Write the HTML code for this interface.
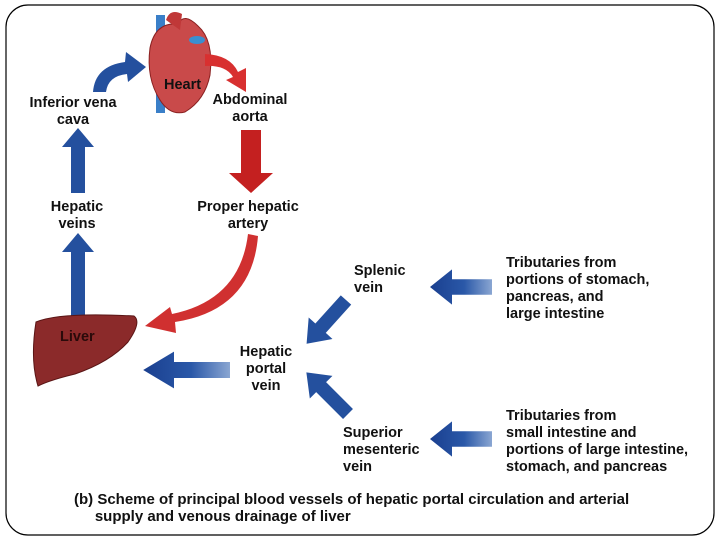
<!DOCTYPE html>
<html><head><style>
html,body{margin:0;padding:0;background:#fff;}
body{width:720px;height:540px;position:relative;overflow:hidden;font-family:"Liberation Sans",Arial,sans-serif;}
.t{position:absolute;font-weight:bold;font-size:14.5px;line-height:17px;color:#111;}
</style></head><body>
<svg width="720" height="540" style="position:absolute;left:0;top:0">
<defs>
<linearGradient id="bl" x1="0" y1="0" x2="1" y2="0"><stop offset="0" stop-color="#8aa6d2"/><stop offset="0.45" stop-color="#2a58a8"/><stop offset="1" stop-color="#1a3f8f"/></linearGradient>
<path id="ar" d="M0,-7 L40,-7 L40,-16 L62,0 L40,16 L40,7 L0,7 Z"/>
</defs>
<rect x="6" y="5" width="708" height="530" rx="22" fill="none" stroke="#000" stroke-width="1.2"/>
<path d="M71,193 L71,147 L62,147 L78,128 L94,147 L85,147 L85,193 Z" fill="#24509e"/>
<path d="M71,322 L71,252 L62,252 L78,233 L94,252 L85,252 L85,322 Z" fill="#24509e"/>
<path d="M93,92 Q95,66 125,62 L126,52 L146,67 L128,82 L127,74 Q108,76 106,92 Z" fill="#24509e"/>
<!-- heart -->
<rect x="156" y="15" width="9" height="98" fill="#3a7fc8"/>
<path d="M150,48 Q155,22 178,24 Q184,12 198,26 Q214,40 210,75 Q205,100 185,112 Q170,116 160,100 Q146,78 150,48 Z" fill="#c94a4a" stroke="#8a2020"/>
<path d="M166,20 Q170,8 182,14 L180,30 Z" fill="#c03838"/>
<ellipse cx="197" cy="40" rx="8" ry="4" fill="#3a8fd0"/>
<path d="M205,54 Q230,55 238,72 L246,68 L246,92 L226,80 L233,77 Q226,65 205,66 Z" fill="#d83030"/>
<path d="M241,130 L241,173 L229,173 L251,193 L273,173 L261,173 L261,130 Z" fill="#c42020"/>
<path d="M248,234 L258,236 Q252,310 175,322 L176,333 L145,326 L170,307 L172,314 Q240,300 248,234 Z" fill="#d03030"/>
<!-- liver -->
<path d="M36,322 Q60,312 134,316 Q142,322 128,342 Q110,362 75,374 Q50,380 38,386 Q30,360 36,322 Z" fill="#8b2a2a" stroke="#5a1515"/>
<use href="#ar" transform="translate(230,370) scale(-1.4,1.15)" fill="url(#bl)"/>
<use href="#ar" transform="translate(492,287) scale(-1,1.1)" fill="url(#bl)"/>
<use href="#ar" transform="translate(492,439) scale(-1,1.1)" fill="url(#bl)"/>
<use href="#ar" transform="translate(346,300) rotate(132) scale(0.95,1)" fill="#24509e"/>
<use href="#ar" transform="translate(348,414) rotate(-135) scale(0.95,1)" fill="#24509e"/>
</svg>
<div class="t" style="left:164px;top:77px;">Heart</div>
<div class="t" style="left:60px;top:329px;color:#2a0a0a;">Liver</div>
<div class="t" style="left:25px;top:95px;text-align:center;width:96px;">Inferior vena<br>cava</div>
<div class="t" style="left:209px;top:92px;text-align:center;width:82px;">Abdominal<br>aorta</div>
<div class="t" style="left:42px;top:199px;text-align:center;width:70px;">Hepatic<br>veins</div>
<div class="t" style="left:190px;top:199px;text-align:center;width:116px;">Proper hepatic<br>artery</div>
<div class="t" style="left:354px;top:263px;">Splenic<br>vein</div>
<div class="t" style="left:234px;top:344px;text-align:center;width:64px;">Hepatic<br>portal<br>vein</div>
<div class="t" style="left:343px;top:425px;">Superior<br>mesenteric<br>vein</div>
<div class="t" style="left:506px;top:255px;">Tributaries from<br>portions of stomach,<br>pancreas, and<br>large intestine</div>
<div class="t" style="left:506px;top:408px;">Tributaries from<br>small intestine and<br>portions of large intestine,<br>stomach, and pancreas</div>
<div class="t" style="left:74px;top:491px;font-size:15px;">(b) Scheme of principal blood vessels of hepatic portal circulation and arterial<br>&nbsp;&nbsp;&nbsp;&nbsp;&nbsp;supply and venous drainage of liver</div>
</body></html>
